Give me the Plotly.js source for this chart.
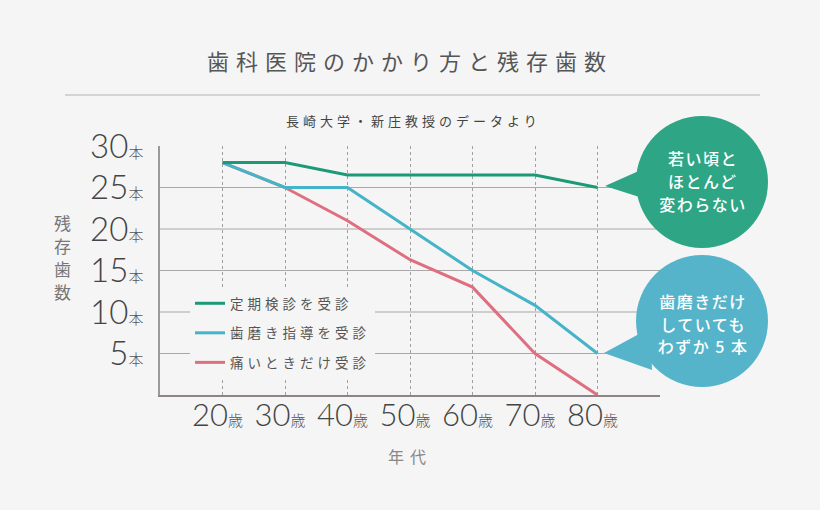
<!DOCTYPE html>
<html><head><meta charset="utf-8">
<script src="https://cdn.plot.ly/plotly-3.0.1.min.js"></script>
<style>
body{margin:0;background:#f5f5f5;}
#chart{width:820px;height:510px;}
.legendtext{letter-spacing:4px;}
text[data-unformatted^="歯科医院"]{letter-spacing:7px;}
text[data-unformatted^="長崎大学"]{letter-spacing:4px;}
text.bubbletxt{letter-spacing:1.5px;}
text[data-unformatted^="年代"]{letter-spacing:6px;}
</style></head>
<body><div id="chart"></div>
<script>
// ---- data ----
const ages = [20, 30, 40, 50, 60, 70, 80];
const ageLabels = ['20', '30', '40', '50', '60', '70', '80'];
const seriesNames = ['定期検診を受診', '歯磨き指導を受診', '痛いときだけ受診'];
const regularCheckup = [28, 28, 26.5, 26.5, 26.5, 26.5, 25];
const brushingGuidance = [28, 25, 25, 20, 15, 10.8, 5];
const onlyWhenPain = [28, 25, 21, 16.3, 13, 5, 0];
const yTicks = [5, 10, 15, 20, 25, 30];
const toothUnit = '本';
const ageUnit = '歳';
const titleText = '歯科医院のかかり方と残存歯数';
const subtitleText = '長崎大学・新庄教授のデータより';
const yTitleChars = ['残', '存', '歯', '数'];
const xTitleText = '年代';
const greenNote = ['若い頃と', 'ほとんど', '変わらない'];
const blueNote = ['歯磨きだけ', 'していても', 'わずか 5 本'];

// ---- layout helpers (pixel -> paper) ----
const L = 160, R = 660, T = 146, B = 395;
const px = p => (p - L) / (R - L);
const py = p => (B - p) / (B - T);

const cGreen = '#1c9a78', cBlue = '#45b3c8', cRed = '#df6f80';
const bGreen = '#2ea584', bBlue = '#56b4ca';

const traces = [
  {x: ages, y: onlyWhenPain, name: seriesNames[2], color: cRed, rank: 3},
  {x: ages, y: brushingGuidance, name: seriesNames[1], color: cBlue, rank: 2},
  {x: ages, y: regularCheckup, name: seriesNames[0], color: cGreen, rank: 1}
].map(t => ({
  type: 'scatter', mode: 'lines', x: t.x, y: t.y, name: t.name,
  legendrank: t.rank, legendgroup: 'g' + t.rank, line: {color: t.color, width: 3},
  cliponaxis: false, hoverinfo: 'skip'
}));

const gridAges = ages.concat([90]);
const shapes = [];
yTicks.filter(v => v < 30).forEach(v => shapes.push({
  type: 'line', xref: 'paper', yref: 'y', x0: 0, x1: 1, y0: v, y1: v,
  line: {color: '#a8a8a8', width: 1.2}, layer: 'below'
}));
// separator under title
shapes.push({type: 'line', xref: 'paper', yref: 'paper', x0: px(65), x1: px(760), y0: py(95), y1: py(95),
  line: {color: '#c9c9c9', width: 1.5}});
// bubbles
function bubble(cx, cy, r, tip, b1, b2, col) {
  shapes.push({type: 'path', xref: 'paper', yref: 'paper', layer: 'above', line: {width: 0}, fillcolor: col,
    path: `M${px(tip[0])},${py(tip[1])} L${px(b1[0])},${py(b1[1])} L${px(b2[0])},${py(b2[1])} Z`});
  shapes.push({type: 'circle', xref: 'paper', yref: 'paper', layer: 'above', line: {width: 0}, fillcolor: col,
    x0: px(cx - r), x1: px(cx + r), y0: py(cy + r), y1: py(cy - r)});
}
bubble(702, 182, 66, [605, 186], [650, 166], [655, 202], bGreen);
bubble(702, 321, 66, [604, 353], [650, 328], [652, 370], bBlue);

const bubbleFont = {size: 16, color: '#fff', weight: 500};
const annotations = [
  {text: titleText, x: px(410), y: py(60), font: {size: 22, color: '#555'}},
  {text: subtitleText, x: px(413), y: py(120), font: {size: 13, color: '#444'}}
].concat(greenNote.map((s, i) => ({text: s, x: px(703), y: py(158 + i * 23), font: bubbleFont})))
 .concat(blueNote.map((s, i) => ({text: s, x: px(703), y: py(301 + i * 22.5), font: bubbleFont})))
 .concat(yTitleChars.map((c, i) => ({text: c, x: px(62), y: py(222 + i * 23), font: {size: 17, color: '#777'}})))
 .map(a => Object.assign({xref: 'paper', yref: 'paper', showarrow: false, xanchor: 'center', yanchor: 'middle', align: 'center'}, a));

const unitSpan = u => `<span style="font-size:15px;font-family:'Noto Sans CJK JP';fill:#555">${u}</span>`;

const layout = {
  width: 820, height: 510,
  margin: {l: L, r: 820 - R, t: T, b: 510 - B},
  paper_bgcolor: '#f5f5f5', plot_bgcolor: '#f5f5f5',
  font: {family: "'Noto Sans CJK JP', 'Noto Sans', sans-serif", color: '#555'},
  showlegend: true,
  legend: {x: px(190), y: py(288), xanchor: 'left', yanchor: 'top', bgcolor: '#f5f5f5',
    font: {size: 13.5, color: '#555'}, traceorder: 'grouped', tracegroupgap: 9, itemclick: false},
  xaxis: {
    range: [10, 90], tickmode: 'array', tickvals: gridAges,
    ticktext: ageLabels.map(a => a + unitSpan(ageUnit)).concat(['']),
    tickfont: {family: 'Lato', size: 31, color: '#444', weight: 300},
    ticks: '', ticklabelstandoff: -8, ticklabelshift: -5,
    showgrid: true, gridcolor: '#a0a0a0', griddash: '3px,3px', gridwidth: 1,
    showline: true, linecolor: '#8d8585', linewidth: 2, zeroline: false,
    title: {text: xTitleText, font: {size: 16, color: '#888'}, standoff: 20}
  },
  yaxis: {
    range: [0, 30], tickmode: 'array', tickvals: yTicks,
    ticktext: yTicks.map(v => v + unitSpan(toothUnit)),
    tickfont: {family: 'Lato', size: 33, color: '#444', weight: 300},
    ticks: '', ticklabelstandoff: 8,
    showgrid: false, zeroline: false,
    showline: true, linecolor: '#9a9a9a', linewidth: 2
  },
  shapes: shapes,
  annotations: annotations
};

Plotly.newPlot('chart', traces, layout, {displayModeBar: false, staticPlot: true}).then(gd => {
  document.querySelectorAll('#chart .annotation').forEach(g => {
    const idx = +g.getAttribute('data-index');
    if (idx >= 2 && idx < 2 + greenNote.length + blueNote.length) {
      const t = g.querySelector('text'); if (t) t.classList.add('bubbletxt');
    }
  });
});
</script></body></html>
